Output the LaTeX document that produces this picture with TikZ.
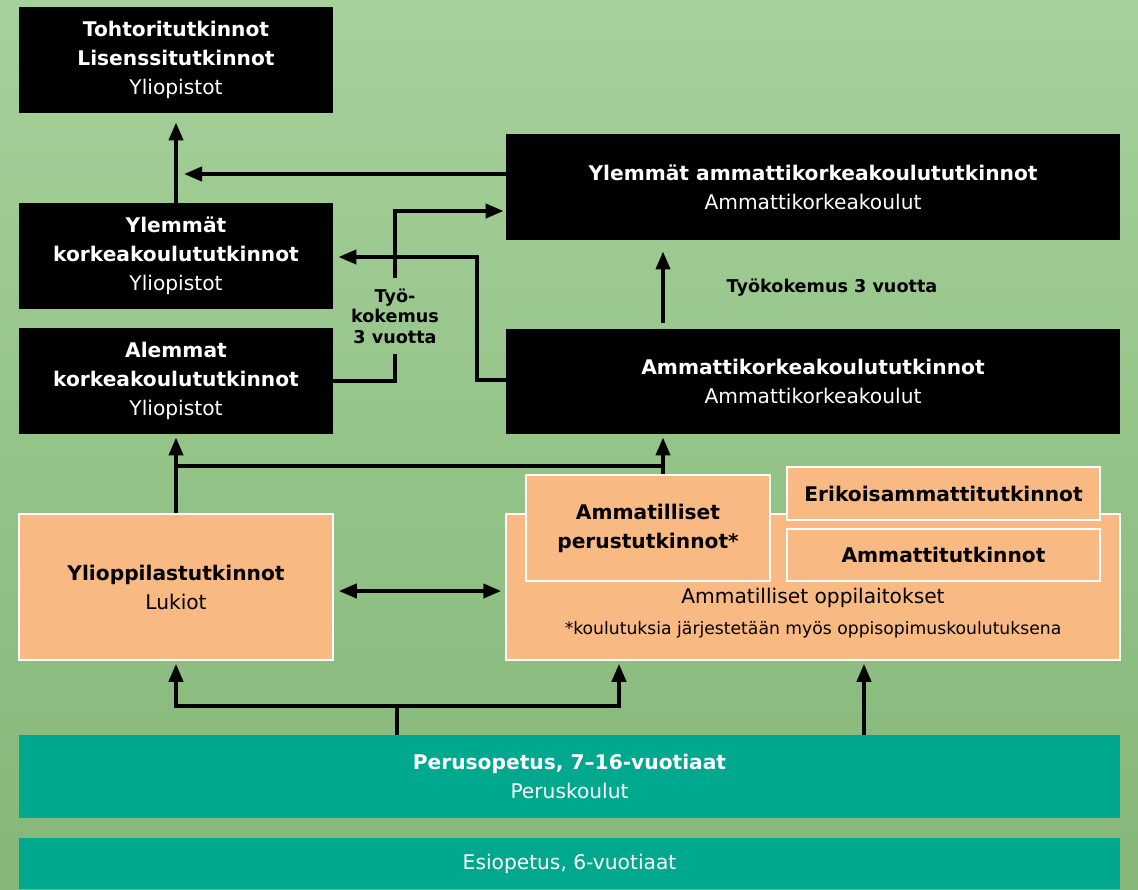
\documentclass[tikz,border=0pt]{standalone}
\usepackage{fontspec}
\setmainfont{DejaVu Sans}
\usetikzlibrary{arrows.meta}

\definecolor{bgtop}{RGB}{165,209,154}
\definecolor{bgbottom}{RGB}{133,183,120}
\definecolor{peach}{RGB}{248,185,131}
\definecolor{basegreen}{RGB}{0,168,142}

\newcommand{\boxfont}{\fontsize{10.1}{14.5}\selectfont}
\newcommand{\notefont}{\fontsize{8.8}{10.25}\selectfont\bfseries}
\newcommand{\smallfont}{\fontsize{8.6}{10}\selectfont}

\begin{document}
\begin{tikzpicture}[x=0.5pt, y=-0.5pt,
  degree/.style={fill=black, text=white, align=center, inner sep=0pt, font=\boxfont, minimum width=157pt, minimum height=53pt},
  school/.style={fill=peach, draw=white, line width=0.75pt, align=center, inner sep=0pt, font=\boxfont},
  basic/.style={fill=basegreen, text=white, align=center, inner sep=0pt, font=\boxfont, minimum width=550.5pt},
  flow/.style={line width=2pt, -{Triangle[length=9pt,width=7pt]}, shorten >=1.5pt},
  twoway/.style={line width=2pt, {Triangle[length=9pt,width=7pt]}-{Triangle[length=9pt,width=7pt]}},
  link/.style={line width=2pt},
  note/.style={font=\notefont, align=center, inner sep=0pt}
]

% Background
\useasboundingbox (0,0) rectangle (1138,889);
\shade[top color=bgtop, bottom color=bgbottom] (0,0) rectangle (1138,889);

% University and AMK degrees
\node[degree] (doc) at (176,60) {\textbf{Tohtoritutkinnot}\\\textbf{Lisenssitutkinnot}\\Yliopistot};
\node[degree] (ylkk) at (176,256) {\textbf{Ylemmät}\\\textbf{korkeakoulututkinnot}\\Yliopistot};
\node[degree] (alkk) at (176,381) {\textbf{Alemmat}\\\textbf{korkeakoulututkinnot}\\Yliopistot};
\node[degree, minimum width=307pt] (ylamk) at (813,187) {\textbf{Ylemmät ammattikorkeakoulututkinnot}\\Ammattikorkeakoulut};
\node[degree, minimum width=307pt, minimum height=52.5pt] (amk) at (813,381.5) {\textbf{Ammattikorkeakoulututkinnot}\\Ammattikorkeakoulut};

% Secondary level
\node[school, minimum width=157pt, minimum height=73pt] (ylio) at (176,587) {\textbf{Ylioppilastutkinnot}\\Lukiot};
\node[school, minimum width=307pt, minimum height=73pt] (opp) at (813,587) {};
\node[font=\boxfont] (oppname) at (813,598) {Ammatilliset oppilaitokset};
\node[font=\smallfont] (oppnote) at (813,630) {*koulutuksia järjestetään myös oppisopimuskoulutuksena};
\node[school, minimum width=122pt, minimum height=53pt] (perus) at (648,528) {\textbf{Ammatilliset}\\\textbf{perustutkinnot*}};
\node[school, minimum width=156.5pt, minimum height=26.5pt] (erik) at (943.5,493.5) {\textbf{Erikoisammattitutkinnot}};
\node[school, minimum width=156.5pt, minimum height=26pt] (ammt) at (943.5,555) {\textbf{Ammattitutkinnot}};

% Basic education
\node[basic, minimum height=41.5pt] (perusop) at (569.5,776.5) {\textbf{Perusopetus, 7–16-vuotiaat}\\Peruskoulut};
\node[basic, minimum height=25.5pt] (esiop) at (569.5,863.5) {Esiopetus, 6-vuotiaat};

% Work experience labels
\node[note, inner xsep=2pt, inner ysep=5pt] (tyo1) at (395,316) {Työ-\\kokemus\\3 vuotta};
\node[note] (tyo2) at (832,288) {Työkokemus 3 vuotta};

% Routes to doctoral degrees
\draw[flow, shorten >=4.5pt] (ylkk) -- (doc);
\draw[flow, shorten >=4pt] ([yshift=6.5pt]ylamk.west) -- ([yshift=6.5pt]ylamk.west -| doc.south);

% Work experience routes
\draw[link] (alkk.east) -| (tyo1.south);
\draw[flow, shorten >=1pt] (tyo1.north) |- ([yshift=-12pt]ylamk.west);
\draw[flow, shorten >=2.5pt] ([yshift=1pt]amk.west) -- ++(-14.5pt,0) |- ([yshift=-0.5pt]ylkk.east);
\draw[flow, shorten <=3pt, shorten >=5.5pt] ([xshift=-75pt]amk.north) -- ([xshift=-75pt]ylamk.south);

% Upper secondary routes
\coordinate (fork) at (176,466);
\coordinate (amkin) at ([xshift=-75pt]amk.south);
\draw[flow] (ylio) -- (alkk);
\draw[flow] (fork) -| (amkin);
\draw[link] (perus.north -| amkin) -- (fork -| amkin);
\draw[twoway, shorten <=2.5pt, shorten >=2pt] ([yshift=-2pt]ylio.east) -- ([yshift=-2pt]opp.west);

% Routes from basic education
\coordinate (hub) at (397,706);
\draw[link] (hub |- perusop.north) -- (hub);
\draw[flow] (hub) -| (ylio.south);
\draw[flow] (hub) -| ([xshift=-97pt]opp.south);
\draw[flow] ([xshift=25.5pt]opp.south |- perusop.north) -- ([xshift=25.5pt]opp.south);

\end{tikzpicture}
\end{document}
